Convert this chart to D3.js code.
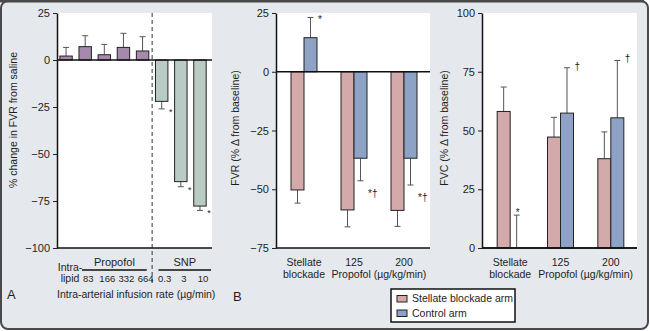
<!DOCTYPE html>
<html>
<head>
<meta charset="utf-8">
<script src="https://cdn.jsdelivr.net/npm/d3@7"></script>
<style>
    body { margin: 0; background: #fff; }
    svg text { font-family: "Liberation Sans", Arial, Helvetica, sans-serif; }
</style>
</head>
<body>
<div id="chart"></div>
<script>

// ---- Panel A data: % change in FVR from saline ----
const catsA = ["Intralipid", "83", "166", "332", "664", "0.3", "3", "10"];
const drugA = ["lipid", "propofol", "propofol", "propofol", "propofol", "snp", "snp", "snp"];
const valsA = [2.1, 7.1, 2.8, 6.7, 4.8, -22, -64.7, -77.7];
const errA = [6.7, 12.9, 8.3, 14.2, 12.4, -26, -67.4, -80];
const sigA = ["", "", "", "", "", "*", "*", "*"];
const ticksA = [25, 0, -25, -50, -75, -100];

// ---- Panels B and C data ----
const groupsBC = ["Stellate blockade", "125", "200"];
const armKeys = ["Stellate blockade arm", "Control arm"];

const fvrStellate = [-50.3, -58.8, -59];
const fvrStellateErr = [-55.9, -66, -65.8];
const fvrControl = [14.5, -36.8, -36.8];
const fvrControlErr = [23.1, -46.4, -48.2];
const fvrControlSig = ["*", "*†", "*†"];
const ticksB = [25, 0, -25, -50, -75];

const fvcStellate = [58.1, 47.2, 38];
const fvcStellateErr = [68.5, 55.6, 49.4];
const fvcControl = [0, 57.4, 55.4];
const fvcControlErr = [14, 76.7, 79.8];
const fvcControlSig = ["*", "†", "†"];
const ticksC = [0, 25, 50, 75, 100];

const colors = {
    lipid: "#a58aab",
    propofol: "#a58aab",
    snp: "#b8ccc3",
    "Stellate blockade arm": "#d4a9a9",
    "Control arm": "#8ea2c5"
};
const ink = "#1e1e1e";

const plotTop = 13, plotBottom = 248;

const svg = d3.select("#chart").append("svg")
    .attr("width", 650)
    .attr("height", 331);

// figure frame
svg.append("rect")
    .attr("x", 1).attr("y", 1)
    .attr("width", 647).attr("height", 328)
    .attr("rx", 7)
    .attr("fill", "#e5e8ec")
    .attr("stroke", "#4a4a4a")
    .attr("stroke-width", 2);
svg.append("line")
    .attr("x1", 0).attr("x2", 644).attr("y1", 1).attr("y2", 1)
    .attr("stroke", "#4a4a4a").attr("stroke-width", 3);

function yAxis(g, scale, ticks) {
    g.call(d3.axisLeft(scale).tickValues(ticks).tickSize(4).tickSizeOuter(0).tickPadding(3));
    g.select(".domain").attr("stroke", "#111").attr("stroke-width", 1.5);
    g.selectAll(".tick line").attr("stroke", "#222");
    g.selectAll(".tick text").style("font-size", "11px").attr("fill", ink);
}

function hLine(x1, x2, y, w) {
    svg.append("line")
        .attr("x1", x1).attr("x2", x2).attr("y1", y).attr("y2", y)
        .attr("stroke", "#111").attr("stroke-width", w || 1.5);
}

function errorBar(x, y0, y1) {
    svg.append("line")
        .attr("x1", x).attr("x2", x).attr("y1", y0).attr("y2", y1)
        .attr("stroke", "#555").attr("stroke-width", 1);
    svg.append("line")
        .attr("x1", x - 3).attr("x2", x + 3).attr("y1", y1).attr("y2", y1)
        .attr("stroke", "#555").attr("stroke-width", 1);
}

function label(x, y, txt, size, anchor) {
    return svg.append("text")
        .attr("x", x).attr("y", y)
        .attr("text-anchor", anchor || "middle")
        .attr("fill", ink)
        .style("font-size", (size || 10.5) + "px")
        .text(txt);
}

function vLabel(x, y, txt) {
    svg.append("text")
        .attr("transform", "translate(" + x + "," + y + ") rotate(-90)")
        .attr("text-anchor", "middle")
        .attr("fill", ink)
        .style("font-size", "10.5px")
        .text(txt);
}

// marker offset from the error tip, depending on direction and glyph
function sigY(tipY, value, txt) {
    if (value < 0) return tipY + 16;
    return txt.charAt(0) === "*" ? tipY + 6 : tipY + 2;
}

/*
 * Panel A
 */
const yA = d3.scaleLinear().domain([-100, 25]).range([plotBottom, plotTop]);
const xA = d3.scaleBand().domain(catsA).range([56, 210]).paddingInner(0.35).paddingOuter(0.2);
const leftA = 57, rightA = 212;

svg.append("rect")
    .attr("x", leftA).attr("y", plotTop)
    .attr("width", rightA - leftA).attr("height", plotBottom - plotTop)
    .attr("fill", "#fff");

const dashX = (xA("664") + xA.bandwidth() + xA("0.3")) / 2;
svg.append("line")
    .attr("x1", dashX).attr("x2", dashX).attr("y1", plotTop).attr("y2", 283)
    .attr("stroke", "#333").attr("stroke-width", 1)
    .attr("stroke-dasharray", "4,3");

catsA.forEach((c, i) => {
    const x = xA(c), bw = xA.bandwidth();
    errorBar(x + bw / 2, yA(valsA[i]), yA(errA[i]));
    svg.append("rect")
        .attr("x", x)
        .attr("y", Math.min(yA(valsA[i]), yA(0)))
        .attr("width", bw)
        .attr("height", Math.abs(yA(valsA[i]) - yA(0)))
        .attr("fill", colors[drugA[i]])
        .attr("stroke", "#222").attr("stroke-width", 1);
    if (sigA[i]) {
        label(x + bw + 1, yA(errA[i]) + 6, sigA[i], 9, "start");
    }
    if (i > 0) label(x + bw / 2 + 3, 282, c, 9.5);
});

hLine(leftA, rightA, yA(0));
hLine(leftA, rightA, yA(-100));
yAxis(svg.append("g").attr("transform", "translate(" + leftA + ",0)"), yA, ticksA);

// group labels under panel A
label(xA("Intralipid") + xA.bandwidth() / 2 + 4, 271, "Intra-");
label(xA("Intralipid") + xA.bandwidth() / 2 + 4, 282, "lipid");
[["Propofol", "83", "664"], ["SNP", "0.3", "10"]].forEach(g => {
    const x1 = xA(g[1]) + 3;
    const x2 = Math.max(xA(g[2]) + xA.bandwidth() - 2, g[0] === "SNP" ? rightA - 1 : 0);
    hLine(x1, x2, 270, 1.5);
    label((x1 + x2) / 2, 266, g[0], 11);
});
label(7, 299, "A", 13, "start");
label(57, 298, "Intra-arterial infusion rate (µg/min)", 10.5, "start");
vLabel(17, 120, "% change in FVR from saline");

/*
 * Panels B and C (grouped bars)
 */
function groupedPanel(opts) {
    const y = d3.scaleLinear().domain(opts.domain).range([plotBottom, plotTop]);
    const x0 = d3.scaleBand().domain(groupsBC).range([opts.left + 2, opts.right])
        .paddingInner(0.2).paddingOuter(0.12);
    const x1 = d3.scaleBand().domain(armKeys).range([-13, 13]);

    svg.append("rect")
        .attr("x", opts.left).attr("y", plotTop)
        .attr("width", opts.right - opts.left).attr("height", plotBottom - plotTop)
        .attr("fill", "#fff");

    groupsBC.forEach((g, i) => {
        const cx = x0(g) + x0.bandwidth() / 2;
        const series = [
            {key: armKeys[0], v: opts.stellate[i], e: opts.stellateErr[i], s: ""},
            {key: armKeys[1], v: opts.control[i], e: opts.controlErr[i], s: opts.controlSig[i]}
        ];
        series.forEach(d => {
            const bx = cx + x1(d.key), bw = x1.bandwidth();
            errorBar(bx + bw / 2, y(d.v), y(d.e));
            if (d.v !== 0) {
                svg.append("rect")
                    .attr("x", bx)
                    .attr("y", Math.min(y(d.v), y(0)))
                    .attr("width", bw)
                    .attr("height", Math.abs(y(d.v) - y(0)))
                    .attr("fill", colors[d.key])
                    .attr("stroke", "#222").attr("stroke-width", 1);
            }
            if (d.s) {
                if (d.v === 0) label(bx + bw / 2 + 1, y(d.e) + 1, d.s, 10);
                else label(bx + bw + 1, sigY(y(d.e), d.v, d.s), d.s, 10, "start");
            }
        });
    });

    hLine(opts.left, opts.right, y(0));
    hLine(opts.left, opts.right, plotBottom);
    yAxis(svg.append("g").attr("transform", "translate(" + opts.left + ",0)"), y, opts.ticks);

    const c = g => x0(g) + x0.bandwidth() / 2;
    label(c("Stellate blockade"), 266, "Stellate");
    label(c("Stellate blockade"), 278, "blockade");
    label(c("125"), 266, "125");
    label(c("200"), 266, "200");
    label((c("125") + c("200")) / 2, 278, "Propofol (µg/kg/min)");
    vLabel(opts.labelX, 128, opts.title);
}

groupedPanel({
    left: 276, right: 430, domain: [-75, 25], ticks: ticksB,
    stellate: fvrStellate, stellateErr: fvrStellateErr,
    control: fvrControl, controlErr: fvrControlErr, controlSig: fvrControlSig,
    labelX: 239, title: "FVR (% Δ from baseline)"
});

groupedPanel({
    left: 482, right: 637, domain: [0, 100], ticks: ticksC,
    stellate: fvcStellate, stellateErr: fvcStellateErr,
    control: fvcControl, controlErr: fvcControlErr, controlSig: fvcControlSig,
    labelX: 448, title: "FVC (% Δ from baseline)"
});

label(233, 301, "B", 13, "start");

// legend
const legend = svg.append("g").attr("transform", "translate(391,289)");
legend.append("rect")
    .attr("width", 124).attr("height", 33)
    .attr("fill", "#fff").attr("stroke", "#111").attr("stroke-width", 1.5);
armKeys.forEach((k, i) => {
    legend.append("rect")
        .attr("x", 6).attr("y", 6.5 + i * 14.5)
        .attr("width", 10).attr("height", 6.5)
        .attr("fill", colors[k]).attr("stroke", "#222").attr("stroke-width", 1);
    legend.append("text")
        .attr("x", 21).attr("y", 13 + i * 14.5)
        .attr("fill", ink)
        .style("font-size", "10.5px")
        .text(k);
});

</script>
</body>
</html>
